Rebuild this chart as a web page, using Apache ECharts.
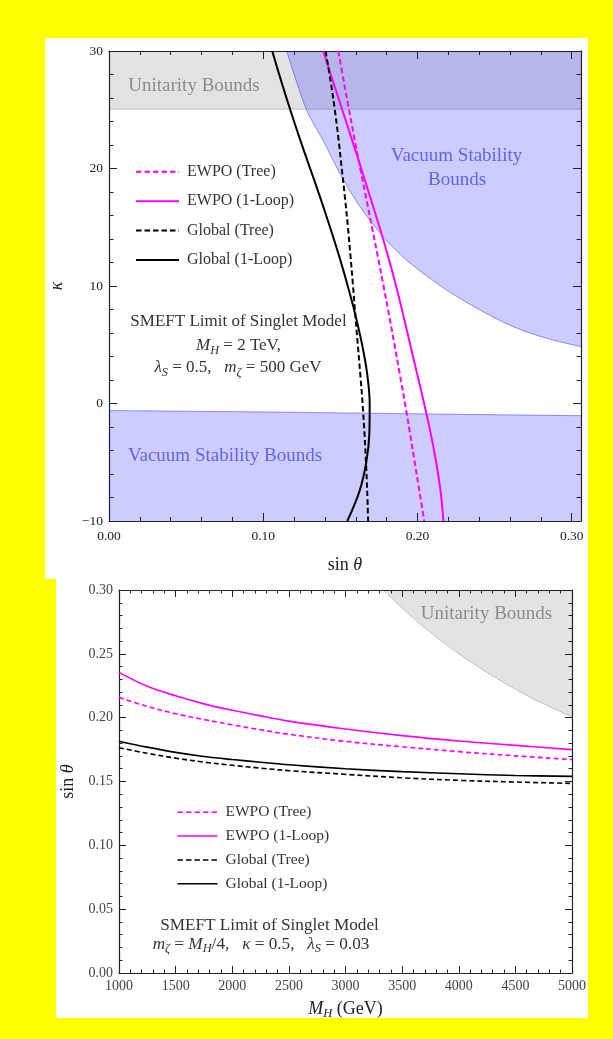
<!DOCTYPE html>
<html>
<head>
<meta charset="utf-8">
<script src="https://cdn.jsdelivr.net/npm/echarts@6/dist/echarts.min.js"></script>
<style>
  html, body { margin: 0; padding: 0; background: #ffff00; }
  #wrap { position: relative; width: 613px; height: 1039px; overflow: hidden; }
  .panel { position: absolute; background: #ffffff; }
  #chart { position: absolute; left: 0; top: 0; width: 613px; height: 1039px; }
</style>
</head>
<body>
<div id="wrap">
  <div class="panel" style="left:45px;top:38px;width:543px;height:541px"></div>
  <div class="panel" style="left:56px;top:579px;width:532px;height:439px"></div>
  <div id="chart"></div>
</div>
<script>
// ---------- upper panel: kappa vs sin(theta), M_H = 2 TeV ----------
const kappaGrid = [30, 27.5, 25, 22.5, 20, 17.5, 15, 12.5, 10, 7.5, 5, 2.5, 0, -2.5, -5, -7.5, -10];
const ewpoTreeSin   = [0.1486, 0.1521, 0.1556, 0.1592, 0.1629, 0.1667, 0.1705, 0.1743, 0.1780, 0.1816, 0.1851, 0.1885, 0.1919, 0.1951, 0.1982, 0.2013, 0.2044];
const ewpoLoopSin   = [0.1389, 0.1450, 0.1512, 0.1574, 0.1635, 0.1695, 0.1754, 0.1810, 0.1861, 0.1908, 0.1953, 0.1998, 0.2043, 0.2085, 0.2121, 0.2150, 0.2168];
const globalTreeSin = [0.1404, 0.1436, 0.1464, 0.1488, 0.1509, 0.1530, 0.1549, 0.1566, 0.1582, 0.1597, 0.1613, 0.1629, 0.1644, 0.1656, 0.1666, 0.1674, 0.1680];
const globalLoopSin = [0.1058, 0.1115, 0.1175, 0.1238, 0.1304, 0.1370, 0.1433, 0.1493, 0.1548, 0.1598, 0.1641, 0.1674, 0.1690, 0.1688, 0.1668, 0.1623, 0.1545];

const unitarityTopSin   = [0, 0.306];
const unitarityTopKappa = [25.05, 25.05];
const vacuumUpperSin   = [0.1152, 0.128, 0.1387, 0.1508, 0.1627, 0.1778, 0.1929, 0.209, 0.2188, 0.2404, 0.262, 0.2837, 0.306];
const vacuumUpperKappa = [30, 25, 22.4, 19.3, 16.75, 14.2, 12.2, 10.57, 9.66, 7.96, 6.54, 5.55, 4.84];
const vacuumLowerSin   = [0, 0.1, 0.2, 0.306];
const vacuumLowerKappa = [-0.6, -0.72, -0.88, -1.04];

const topXRange = [0, 0.306];
const topYRange = [-10, 30];
const topXLabels = [0, 0.1, 0.2, 0.3];
const topYLabels = [-10, 0, 10, 20, 30];

// ---------- lower panel: sin(theta) vs M_H ----------
const massGrid = [1000, 1250, 1500, 1750, 2000, 2250, 2500, 3000, 3500, 4000, 4500, 5000];
const ewpoTreeMass   = [0.2159, 0.2088, 0.2031, 0.1985, 0.1944, 0.1905, 0.1870, 0.1814, 0.1772, 0.1734, 0.1701, 0.1672];
const ewpoLoopMass   = [0.2355, 0.2246, 0.2171, 0.2108, 0.2058, 0.2014, 0.1973, 0.1911, 0.1859, 0.1817, 0.1783, 0.1750];
const globalTreeMass = [0.1764, 0.1721, 0.1683, 0.1652, 0.1627, 0.1605, 0.1585, 0.1556, 0.1529, 0.1509, 0.1496, 0.1485];
const globalLoopMass = [0.1816, 0.1769, 0.1728, 0.1696, 0.1672, 0.1651, 0.1631, 0.1600, 0.1577, 0.1561, 0.1547, 0.1540];
const unitarityMass = [3334, 3540, 3775, 4070, 4364, 4658, 5000];
const unitarityMassSin = [0.300, 0.2825, 0.265, 0.2457, 0.2292, 0.2147, 0.2007];

const botXRange = [1000, 5000];
const botYRange = [0, 0.3];
const botXLabels = [1000, 1500, 2000, 2500, 3000, 3500, 4000, 4500, 5000];
const botYLabels = [0, 0.05, 0.10, 0.15, 0.20, 0.25, 0.30];

const legendNames = ['EWPO (Tree)', 'EWPO (1-Loop)', 'Global (Tree)', 'Global (1-Loop)'];

const FONT = "'Liberation Serif', 'Times New Roman', serif";
const MAGENTA = '#ff00ff';
const FRAME = '#222222';

function pairs(xs, ys) { return xs.map((x, i) => [x, ys[i]]); }

function labelFormatter(values, fmt) {
  return v => (values.some(m => Math.abs(m - v) < 1e-9 * Math.max(1, Math.abs(m))) ? fmt(v) : '');
}

// Frame with ticks on all four sides: one axis pair carries the long major
// ticks (and the frame line), a second pair carries the short minor ticks.
function frameAxes(dim, gi, range, majorStep, minorStep, labels, cfg) {
  const [pA, pB] = dim === 'x' ? ['bottom', 'top'] : ['left', 'right'];
  const lineStyle = { color: FRAME, width: 1.2 };
  const tickStyle = { color: FRAME, width: 1 };
  const base = { type: 'value', gridIndex: gi, min: range[0], max: range[1], splitLine: { show: false }, silent: true };
  const mk = (pos, step, len, withLine, withLabel) => Object.assign({}, base, {
    position: pos,
    interval: step,
    axisLine: { show: withLine, onZero: false, lineStyle },
    axisTick: { show: true, inside: true, length: len, lineStyle: tickStyle },
    minorTick: { show: false },
    axisLabel: withLabel
      ? { show: true, formatter: labelFormatter(labels, cfg.fmt), margin: cfg.margin,
          showMinLabel: true, showMaxLabel: true, hideOverlap: false,
          fontFamily: FONT, fontSize: cfg.fontSize, color: cfg.labelColor }
      : { show: false }
  });
  const main = mk(pA, majorStep, cfg.major, true, true);
  Object.assign(main, {
    name: cfg.name, nameLocation: 'middle', nameGap: cfg.nameGap,
    nameTextStyle: { fontFamily: FONT, fontSize: 18, color: '#222', rich: cfg.rich }
  });
  return [main, mk(pA, minorStep, cfg.minor, false, false),
          mk(pB, majorStep, cfg.major, true, false), mk(pB, minorStep, cfg.minor, false, false)];
}

const mathRich = {
  i: { fontFamily: FONT, fontStyle: 'italic', fontSize: 18, lineHeight: 22 },
  s: { fontFamily: FONT, fontStyle: 'italic', fontSize: 12.5, lineHeight: 10, verticalAlign: 'bottom' }
};

const fmtTopY = v => (v < 0 ? '\u2212' + Math.abs(v) : String(v));
const fmt2 = v => Number(v).toFixed(2);

const xAxes = [].concat(
  frameAxes('x', 0, topXRange, 0.1, 0.02, topXLabels,
    { major: 8, minor: 4, fmt: fmt2, margin: 8, fontSize: 13.5, labelColor: '#222',
      name: 'sin {i|θ}', nameGap: 33, rich: mathRich }),
  frameAxes('x', 1, botXRange, 500, 100, botXLabels,
    { major: 7, minor: 3.5, fmt: v => String(v), margin: 6, fontSize: 14, labelColor: '#444',
      name: '{i|M}{s|H} (GeV)', nameGap: 25, rich: mathRich })
);
const yAxes = [].concat(
  frameAxes('y', 0, topYRange, 10, 2, topYLabels,
    { major: 8, minor: 4.5, fmt: fmtTopY, margin: 6, fontSize: 13.5, labelColor: '#222',
      name: '{i|κ}', nameGap: 41, rich: mathRich }),
  frameAxes('y', 1, botYRange, 0.05, 0.01, botYLabels,
    { major: 7, minor: 3.5, fmt: fmt2, margin: 6, fontSize: 14, labelColor: '#444',
      name: 'sin {i|θ}', nameGap: 40, rich: mathRich })
);

function region(axisIdx, data, fill, edge, origin, smooth) {
  return {
    type: 'line', xAxisIndex: axisIdx, yAxisIndex: axisIdx, data, symbol: 'none', smooth,
    lineStyle: { color: edge, width: 1 }, areaStyle: { color: fill, origin, opacity: 1 },
    z: 1, silent: true
  };
}
function curve(axisIdx, name, data, color, dashed, width, dash) {
  return {
    type: 'line', name, xAxisIndex: axisIdx, yAxisIndex: axisIdx, data, symbol: 'none',
    smooth: 0.35, lineStyle: { color, width, type: dashed ? dash : 'solid' },
    itemStyle: { color }, z: 3, silent: true
  };
}

const GRAY_FILL = 'rgba(0,0,0,0.11)';
const GRAY_EDGE = 'rgba(0,0,0,0.2)';
const BLUE_FILL = 'rgba(0,0,255,0.2)';
const BLUE_EDGE = 'rgba(30,30,240,0.45)';
const DASH_TOP = [5.5, 3];
const DASH_BOT = [5, 3];

const series = [
  region(0, pairs(unitarityTopSin, unitarityTopKappa), GRAY_FILL, GRAY_EDGE, 'end', false),
  region(0, pairs(vacuumUpperSin, vacuumUpperKappa), BLUE_FILL, BLUE_EDGE, 'end', 0.3),
  region(0, pairs(vacuumLowerSin, vacuumLowerKappa), BLUE_FILL, BLUE_EDGE, 'start', 0.3),
  curve(0, legendNames[0], pairs(ewpoTreeSin, kappaGrid), MAGENTA, true, 2, DASH_TOP),
  curve(0, legendNames[1], pairs(ewpoLoopSin, kappaGrid), MAGENTA, false, 2),
  curve(0, legendNames[2], pairs(globalTreeSin, kappaGrid), '#000', true, 2, DASH_TOP),
  curve(0, legendNames[3], pairs(globalLoopSin, kappaGrid), '#000', false, 2),

  region(4, pairs(unitarityMass, unitarityMassSin), GRAY_FILL, GRAY_EDGE, 'end', 0.3),
  curve(4, legendNames[0], pairs(massGrid, ewpoTreeMass), MAGENTA, true, 1.6, DASH_BOT),
  curve(4, legendNames[1], pairs(massGrid, ewpoLoopMass), MAGENTA, false, 1.6),
  curve(4, legendNames[2], pairs(massGrid, globalTreeMass), '#000', true, 1.6, DASH_BOT),
  curve(4, legendNames[3], pairs(massGrid, globalLoopMass), '#000', false, 1.6)
];

function legendBox(left, top, itemWidth, gap, fontSize, lineWidth) {
  return {
    data: legendNames, orient: 'vertical', left, top, itemWidth, itemHeight: 14, itemGap: gap,
    padding: 0, selectedMode: false, itemStyle: { opacity: 0 }, lineStyle: { width: lineWidth },
    textStyle: { fontFamily: FONT, fontSize, color: '#333', lineHeight: 14, padding: [0, 0, 0, 3] }
  };
}

const textRich = (fs) => ({
  i: { fontFamily: FONT, fontStyle: 'italic', fontSize: fs, lineHeight: fs + 4, fill: '#333' },
  s: { fontFamily: FONT, fontStyle: 'italic', fontSize: fs * 0.72, lineHeight: 10, verticalAlign: 'bottom', fill: '#333' },
  r: { fontFamily: FONT, fontSize: fs, lineHeight: fs + 4, fill: '#333' }
});

function label(text, x, y, size, color, rich) {
  return {
    type: 'text', z: 100, silent: true,
    style: { text, x, y, fill: color, fontFamily: FONT, fontSize: size, lineHeight: size + 4,
             textAlign: 'center', textVerticalAlign: 'middle', align: 'center', verticalAlign: 'middle', rich }
  };
}

const BLUE_TEXT = '#6363e4';
const GRAY_TEXT = '#8a8a8a';

const graphics = [
  label('Unitarity Bounds', 194, 86, 19, GRAY_TEXT),
  label('Vacuum Stability', 456.5, 156, 19, BLUE_TEXT),
  label('Bounds', 457, 180, 19, BLUE_TEXT),
  label('Vacuum Stability Bounds', 225, 456, 19, BLUE_TEXT),
  label('SMEFT Limit of Singlet Model', 238.5, 322, 17, '#333'),
  label('{i|M}{s|H}{r| = 2 TeV,}', 238.5, 346, 17, '#333', textRich(17)),
  label('{i|λ}{s|S}{r| = 0.5,   }{i|m}{s|ζ}{r| = 500 GeV}', 238, 368, 17, '#333', textRich(17)),

  label('Unitarity Bounds', 486.5, 614, 19, GRAY_TEXT),
  label('SMEFT Limit of Singlet Model', 269.5, 925, 17.2, '#333'),
  label('{i|m}{s|ζ}{r| = }{i|M}{s|H}{r|/4,   }{i|κ}{r| = 0.5,   }{i|λ}{s|S}{r| = 0.03}', 261, 944, 17.2, '#333', textRich(17.2))
];

const chart = echarts.init(document.getElementById('chart'), null, { renderer: 'canvas' });
chart.setOption({
  backgroundColor: 'transparent',
  animation: false,
  grid: [
    { left: 109, top: 51, width: 472, height: 470 },
    { left: 119, top: 590, width: 453, height: 383 }
  ],
  xAxis: xAxes,
  yAxis: yAxes,
  legend: [
    legendBox(135, 163.8, 43, 13.4, 16, 2),
    legendBox(176.7, 804.3, 40, 7.8, 15.5, 1.5)
  ],
  graphic: graphics,
  series
});
</script>
</body>
</html>
